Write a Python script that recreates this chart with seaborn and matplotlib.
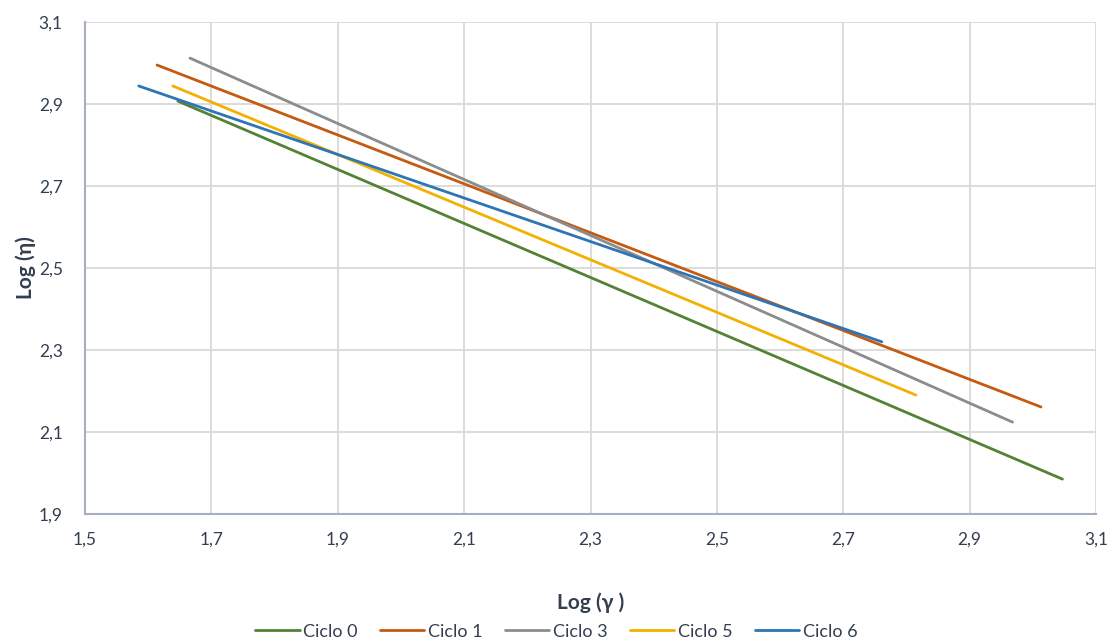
import pandas as pd
import matplotlib.pyplot as plt
import seaborn as sns
from matplotlib.ticker import FuncFormatter

# Data (start and end points of each fitted line)
series_names = ['Ciclo 0', 'Ciclo 1', 'Ciclo 3', 'Ciclo 5', 'Ciclo 6']
log_gamma = {
    'Ciclo 0': [1.647, 3.047],
    'Ciclo 1': [1.614, 3.013],
    'Ciclo 3': [1.666, 2.968],
    'Ciclo 5': [1.639, 2.815],
    'Ciclo 6': [1.585, 2.761],
}
log_eta = {
    'Ciclo 0': [2.907, 1.985],
    'Ciclo 1': [2.995, 2.161],
    'Ciclo 3': [3.012, 2.124],
    'Ciclo 5': [2.944, 2.190],
    'Ciclo 6': [2.944, 2.320],
}
x_ticks = [1.5, 1.7, 1.9, 2.1, 2.3, 2.5, 2.7, 2.9, 3.1]
y_ticks = [1.9, 2.1, 2.3, 2.5, 2.7, 2.9, 3.1]

colors = {
    'Ciclo 0': '#548235',
    'Ciclo 1': '#C55A11',
    'Ciclo 3': '#8C8C8C',
    'Ciclo 5': '#F2B100',
    'Ciclo 6': '#2E75B6',
}
text_color = '#333F4F'

# Build long-form table for seaborn
rows = []
for name in series_names:
    for gx, ey in zip(log_gamma[name], log_eta[name]):
        rows.append({'ciclo': name, 'log_gamma': gx, 'log_eta': ey})
df = pd.DataFrame(rows)

sns.set_theme(style='white')
plt.rcParams['font.family'] = ['Lato', 'DejaVu Sans']

fig = plt.figure(figsize=(11.13, 6.44), dpi=100)
ax = fig.add_axes([0.0764, 0.2019, 0.9083, 0.7639])

sns.lineplot(data=df, x='log_gamma', y='log_eta', hue='ciclo',
             hue_order=series_names, palette=colors, sort=False,
             estimator=None, linewidth=2, ax=ax)

ax.set_xlim(x_ticks[0], x_ticks[-1])
ax.set_ylim(y_ticks[0], y_ticks[-1])
ax.set_xticks(x_ticks)
ax.set_yticks(y_ticks)
comma = FuncFormatter(lambda v, pos: f'{v:.1f}'.replace('.', ','))
ax.xaxis.set_major_formatter(comma)
ax.yaxis.set_major_formatter(comma)

# Excel-like grid and spines
ax.grid(True, color='#D9D9D9', linewidth=1.3)
ax.set_axisbelow(True)
for side in ['top', 'right']:
    ax.spines[side].set_visible(False)
for side in ['left', 'bottom']:
    ax.spines[side].set_color('#A5AFC0')
    ax.spines[side].set_linewidth(1.5)
ax.tick_params(axis='both', length=0, labelsize=12.5, colors=text_color)
ax.tick_params(axis='x', pad=13)
ax.tick_params(axis='y', pad=16)

ax.set_xlabel('Log (γ )', fontsize=15, fontweight='bold', color=text_color, labelpad=32)
ax.set_ylabel('Log (η)', fontsize=15, fontweight='bold', color=text_color, labelpad=2)

# legend centred on the figure, at the bottom edge
handles, labels = ax.get_legend_handles_labels()
ax.get_legend().remove()
fig.legend(handles, labels, loc='center', bbox_to_anchor=(0.5, 0.019),
           ncol=5, frameon=False, fontsize=13, handlelength=2.45,
           handletextpad=0.2, columnspacing=1.25, labelcolor=text_color)

fig.savefig('out.png', dpi=100)
